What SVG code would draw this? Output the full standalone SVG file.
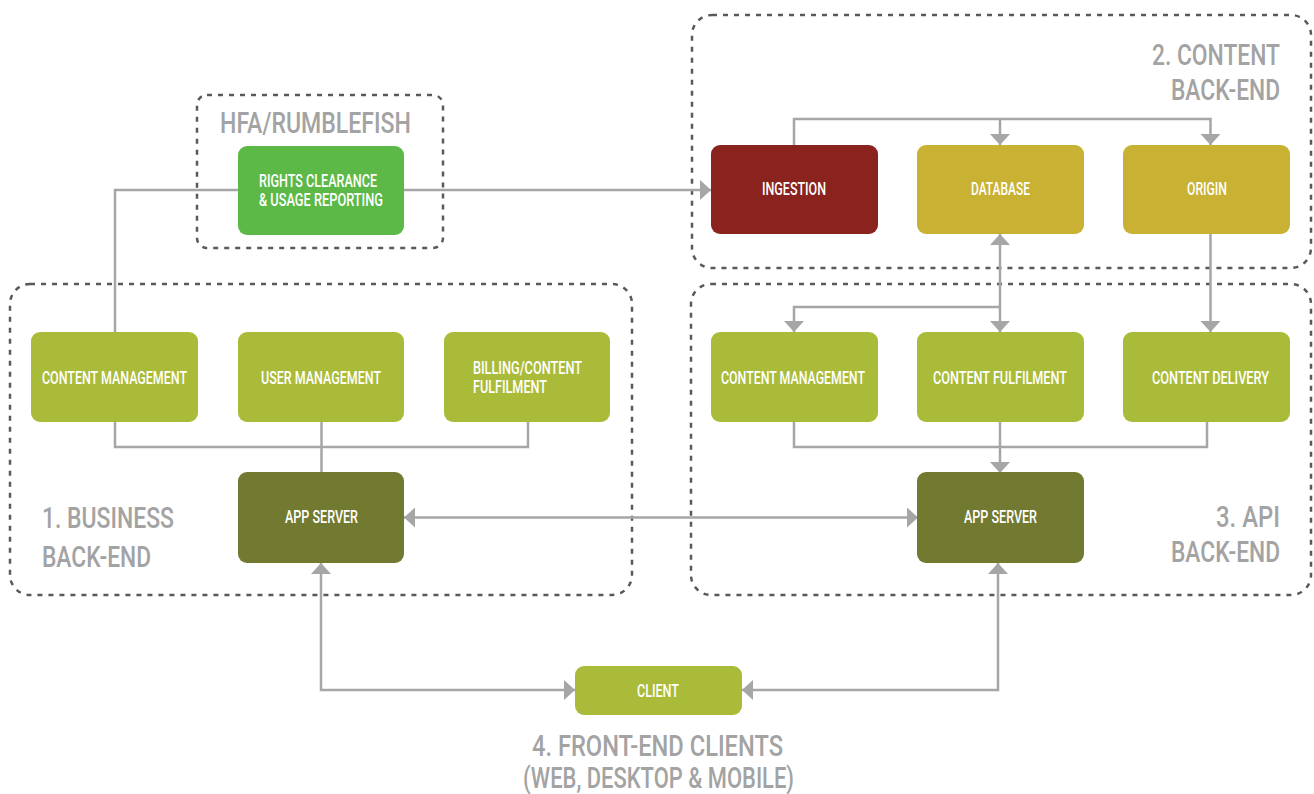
<svg xmlns="http://www.w3.org/2000/svg" width="1314" height="794" viewBox="0 0 1314 794">
<style>
.grp{fill:none;stroke:#58595b;stroke-width:2.5;stroke-dasharray:5 6}
.ln{fill:none;stroke:#a6a6a6;stroke-width:2.5}
.bx{fill:#aabb3a}
.dk{fill:#727930}
.yl{fill:#c9b233}
.t{font-family:Roboto,"Liberation Sans",sans-serif;font-weight:500;fill:#ffffff;font-size:18px}
.g{font-family:Roboto,"Liberation Sans",sans-serif;font-weight:500;fill:#a3a3a3;font-size:29px}
</style>
<defs>
<marker id="a" viewBox="0 0 11 20" refX="11" refY="10" markerWidth="11" markerHeight="20" markerUnits="userSpaceOnUse" orient="auto-start-reverse">
<path d="M0 0L11 10L0 20Z" fill="#a6a6a6"/>
</marker>
</defs>
<rect width="1314" height="794" fill="#ffffff"/>
<g id="groups">
<rect class="grp" x="197" y="95" width="246" height="153" rx="10"/>
<rect class="grp" x="692" y="15" width="619" height="253" rx="20"/>
<rect class="grp" x="10" y="284" width="622" height="311" rx="20"/>
<rect class="grp" x="691" y="284" width="620" height="311" rx="20"/>
<text class="g" x="220" y="133" font-size="32" textLength="191" lengthAdjust="spacingAndGlyphs">HFA/RUMBLEFISH</text>
<text class="g" x="1152" y="65" textLength="128" lengthAdjust="spacingAndGlyphs">2. CONTENT</text>
<text class="g" x="1171" y="100" textLength="109" lengthAdjust="spacingAndGlyphs">BACK-END</text>
<text class="g" x="42" y="528" textLength="132" lengthAdjust="spacingAndGlyphs">1. BUSINESS</text>
<text class="g" x="42" y="567" textLength="109" lengthAdjust="spacingAndGlyphs">BACK-END</text>
<text class="g" x="1216" y="527" textLength="64" lengthAdjust="spacingAndGlyphs">3. API</text>
<text class="g" x="1171" y="562" textLength="109" lengthAdjust="spacingAndGlyphs">BACK-END</text>
<text class="g" x="532" y="756" textLength="251" lengthAdjust="spacingAndGlyphs">4. FRONT-END CLIENTS</text>
<text class="g" x="523" y="788" textLength="271" lengthAdjust="spacingAndGlyphs">(WEB, DESKTOP &amp; MOBILE)</text>
</g>
<g id="connectors">
<path class="ln" d="M115 332V190H238"/>
<path class="ln" d="M404 190H711" marker-end="url(#a)"/>
<path class="ln" d="M794 145V119H1210.5V145" marker-end="url(#a)"/>
<path class="ln" d="M1000 119V145" marker-end="url(#a)"/>
<path class="ln" d="M1000 234V332" marker-start="url(#a)" marker-end="url(#a)"/>
<path class="ln" d="M1000 307H794V332" marker-end="url(#a)"/>
<path class="ln" d="M1210.5 234V332" marker-end="url(#a)"/>
<path class="ln" d="M794 422V447H1207V422"/>
<path class="ln" d="M1000 422V473" marker-end="url(#a)"/>
<path class="ln" d="M115 422V447H528V422"/>
<path class="ln" d="M321.5 422V473"/>
<path class="ln" d="M404 517.5H918" marker-start="url(#a)" marker-end="url(#a)"/>
<path class="ln" d="M321 563V690H575" marker-start="url(#a)" marker-end="url(#a)"/>
<path class="ln" d="M998 563V690H742" marker-start="url(#a)" marker-end="url(#a)"/>
</g>
<g id="rights">
<rect x="238" y="146" width="166" height="89" rx="9" fill="#5cb947"/>
<text class="t" x="259" y="187" textLength="118" lengthAdjust="spacingAndGlyphs">RIGHTS CLEARANCE</text>
<text class="t" x="259" y="206" textLength="124" lengthAdjust="spacingAndGlyphs">&amp; USAGE REPORTING</text>
</g>
<g id="ingestion">
<rect x="711" y="145" width="167" height="89" rx="9" fill="#8a231e"/>
<text class="t" x="762" y="195" textLength="64" lengthAdjust="spacingAndGlyphs">INGESTION</text>
</g>
<g id="database">
<rect class="yl" x="917" y="145" width="167" height="89" rx="9"/>
<text class="t" x="971" y="195" textLength="59" lengthAdjust="spacingAndGlyphs">DATABASE</text>
</g>
<g id="origin">
<rect class="yl" x="1123" y="145" width="167" height="89" rx="9"/>
<text class="t" x="1187" y="195" textLength="40" lengthAdjust="spacingAndGlyphs">ORIGIN</text>
</g>
<g id="b-content-management">
<rect class="bx" x="31" y="332" width="167" height="90" rx="9"/>
<text class="t" x="42" y="384" textLength="145" lengthAdjust="spacingAndGlyphs">CONTENT MANAGEMENT</text>
</g>
<g id="user-management">
<rect class="bx" x="238" y="332" width="166" height="90" rx="9"/>
<text class="t" x="261" y="384" textLength="120" lengthAdjust="spacingAndGlyphs">USER MANAGEMENT</text>
</g>
<g id="billing">
<rect class="bx" x="444" y="332" width="166" height="90" rx="9"/>
<text class="t" x="473" y="374" textLength="109" lengthAdjust="spacingAndGlyphs">BILLING/CONTENT</text>
<text class="t" x="473" y="393" textLength="74" lengthAdjust="spacingAndGlyphs">FULFILMENT</text>
</g>
<g id="b-app-server">
<rect class="dk" x="238" y="472" width="166" height="91" rx="9"/>
<text class="t" x="285" y="523" textLength="73" lengthAdjust="spacingAndGlyphs">APP SERVER</text>
</g>
<g id="a-content-management">
<rect class="bx" x="711" y="332" width="167" height="90" rx="9"/>
<text class="t" x="721" y="384" textLength="144" lengthAdjust="spacingAndGlyphs">CONTENT MANAGEMENT</text>
</g>
<g id="content-fulfilment">
<rect class="bx" x="917" y="332" width="167" height="90" rx="9"/>
<text class="t" x="933" y="384" textLength="134" lengthAdjust="spacingAndGlyphs">CONTENT FULFILMENT</text>
</g>
<g id="content-delivery">
<rect class="bx" x="1123" y="332" width="167" height="90" rx="9"/>
<text class="t" x="1152" y="384" textLength="117" lengthAdjust="spacingAndGlyphs">CONTENT DELIVERY</text>
</g>
<g id="a-app-server">
<rect class="dk" x="917" y="472" width="167" height="91" rx="9"/>
<text class="t" x="964" y="523" textLength="73" lengthAdjust="spacingAndGlyphs">APP SERVER</text>
</g>
<g id="client">
<rect class="bx" x="575" y="666" width="167" height="49" rx="9"/>
<text class="t" x="637" y="697" textLength="42" lengthAdjust="spacingAndGlyphs">CLIENT</text>
</g>
</svg>
